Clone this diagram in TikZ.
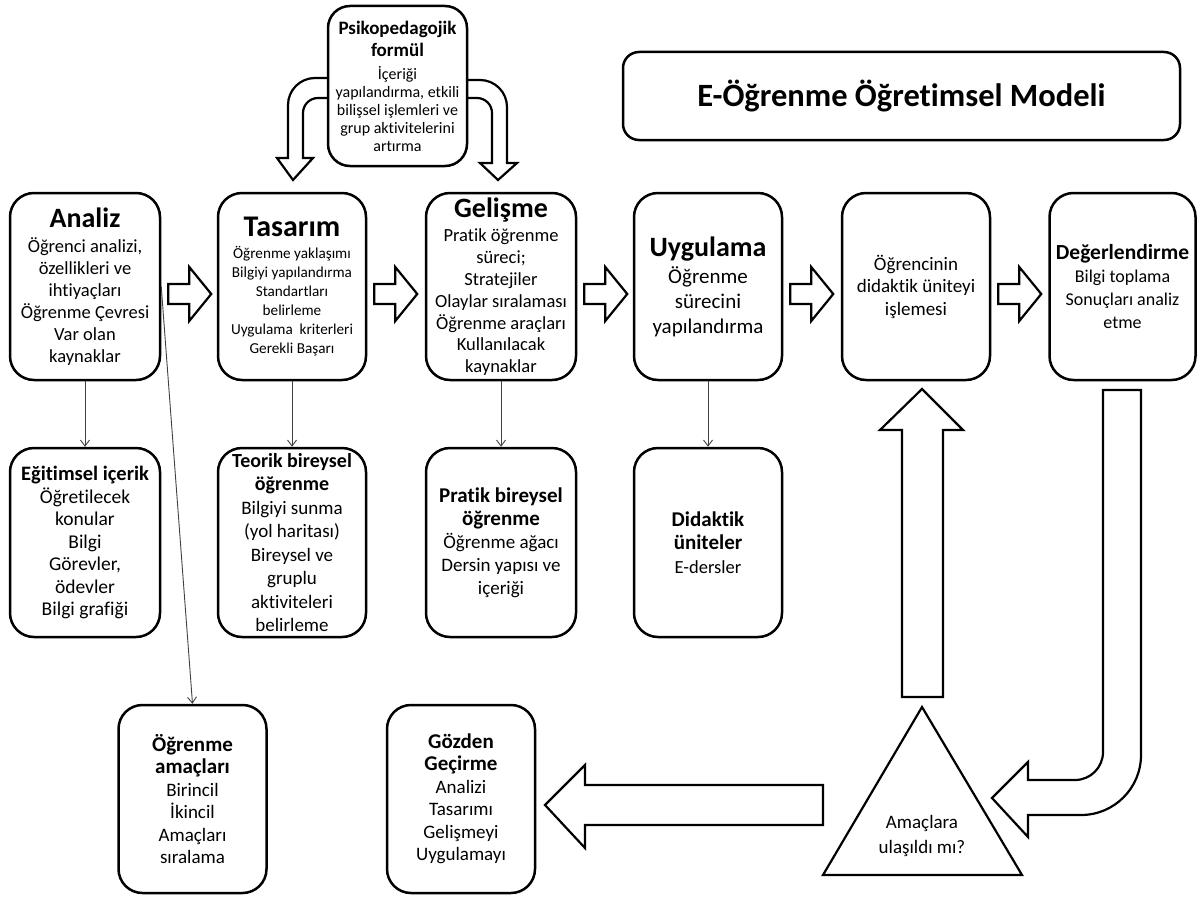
\documentclass[tikz,border=0pt]{standalone}
\usepackage{fontspec}
\setmainfont{Carlito}[Ligatures=NoCommon]
\usetikzlibrary{arrows.meta,calc}
\newcommand{\setfs}[2]{\fontsize{#1}{#2}\selectfont}
\newcommand{\stagehead}[1]{\fontsize{#1}{#1}\selectfont\bfseries}

\begin{document}
\begin{tikzpicture}[x=1pt, y=-1pt,
    stage/.style={draw, line width=2.5pt, rounded corners=24pt, fill=white, align=flush center,
      inner sep=0pt, minimum width=150pt, minimum height=187pt, text width=146pt},
    blockarrow/.style={draw, line width=2.2pt, fill=white, line join=miter},
    thinarrow/.style={draw=black!75, line width=0.9pt, -{Straight Barb[length=6pt, width=9pt]}}]
  \useasboundingbox (0,0) rectangle (1198,899);

  % Curved arrows of the psychopedagogical formula (under its box)
  \draw[blockarrow] (330,78) -- (315,78) arc[start angle=270, end angle=180, radius=27]
    -- (288,158) -- (277,158) -- (293,180) -- (313,158) -- (303,158)
    -- (303,113) arc[start angle=180, end angle=270, radius=15] -- (330,98);
  \draw[blockarrow] (465,80) -- (480,80) arc[start angle=270, end angle=360, radius=27]
    -- (507,163) -- (517,163) -- (498,180) -- (480,163) -- (492,163)
    -- (492,113) arc[start angle=0, end angle=-90, radius=15] -- (465,98);

  \node[stage, minimum width=139pt, minimum height=160pt, text width=137pt,
    rounded corners=22pt, font=\setfs{16}{18}] (psiko) at (397.5,86)
    {{\stagehead{19}Psikopedagojik\\[4pt] formül}\\[5pt] İçeriği\\ yapılandırma, etkili\\
     bilişsel işlemleri ve\\ grup aktivitelerini\\ artırma};

  % Title
  \node[draw, line width=2.5pt, rounded corners=16pt, minimum width=557pt, minimum height=88pt,
    font=\setfs{32.5}{36}\bfseries] (baslik) at (901.5,96) {E-Öğrenme Öğretimsel Modeli};

  % Main stages
  \node[stage, font=\setfs{18.5}{22}] (analiz) at (85,286.5)
    {{\stagehead{28}Analiz}\\[3pt] Öğrenci analizi,\\ özellikleri ve\\ ihtiyaçları\\
     Öğrenme Çevresi\\ Var olan\\ kaynaklar};
  \node[stage, minimum width=148pt, font=\setfs{15.2}{19}] (tasarim) at (292,286.5)
    {{\stagehead{30}Tasarım}\\[3pt] Öğrenme yaklaşımı\\ Bilgiyi yapılandırma\\ Standartları\\
     belirleme\\ Uygulama~ kriterleri\\ Gerekli Başarı};
  \node[stage, font=\setfs{18.5}{21.8}] (gelisme) at (501,286.5)
    {{\stagehead{28}Gelişme}\\[3pt] Pratik öğrenme\\ süreci;\\ Stratejiler\\
     Olaylar sıralaması\\ Öğrenme araçları\\ Kullanılacak\\ kaynaklar};
  \node[stage, minimum width=148pt, font=\setfs{21}{25}] (uygulama) at (708,286.5)
    {{\stagehead{28}Uygulama}\\[2pt] Öğrenme\\ sürecini\\ yapılandırma};
  \node[stage, minimum width=148pt, font=\setfs{19}{22.5}] (isleme) at (916,286.5)
    {Öğrencinin\\ didaktik üniteyi\\ işlemesi};
  \node[stage, minimum width=146pt, text width=144pt, font=\setfs{18}{23}] (deger) at (1122.5,286.5)
    {{\stagehead{21.5}Değerlendirme}\\ Bilgi toplama\\ Sonuçları analiz\\ etme};

  % Second row
  \node[stage, minimum height=189pt, font=\setfs{19.5}{22.5}] (egitim) at (85,542.5)
    {{\stagehead{20.5}Eğitimsel içerik}\\ Öğretilecek\\ konular\\ Bilgi\\ Görevler,\\
     ödevler\\ Bilgi grafiği};
  \node[stage, minimum width=148pt, minimum height=189pt, font=\setfs{19}{23.5}] (teorik) at (292,542.5)
    {{\stagehead{20}Teorik bireysel\\ öğrenme}\\ Bilgiyi sunma\\ (yol haritası)\\
     Bireysel ve\\ gruplu\\ aktiviteleri\\ belirleme};
  \node[stage, minimum height=189pt, font=\setfs{19}{23}] (pratik) at (501,542.5)
    {{\stagehead{21}Pratik bireysel\\ öğrenme}\\ Öğrenme ağacı\\ Dersin yapısı ve\\ içeriği};
  \node[stage, minimum width=148pt, minimum height=189pt, font=\setfs{18.5}{23.5}] (didaktik) at (708,542.5)
    {{\stagehead{21}Didaktik\\ üniteler}\\ E-dersler};

  % Third row
  \node[stage, minimum width=148pt, minimum height=188pt, font=\setfs{19}{22.5}] (amac) at (192.5,799)
    {{\stagehead{21}Öğrenme\\ amaçları}\\ Birincil\\ İkincil\\ Amaçları\\ sıralama};
  \node[stage, minimum width=148pt, minimum height=188pt, font=\setfs{19}{22.5}] (gozden) at (461,799)
    {{\stagehead{21}Gözden\\ Geçirme}\\ Analizi\\ Tasarımı\\ Gelişmeyi\\ Uygulamayı};

  % Block arrows between the stages
  \foreach \a in {analiz, tasarim, gelisme, uygulama, isleme}
    \draw[blockarrow, shift={($(\a.east)+(7,7.5)$)}] (0,-10) -- (21,-10) -- (21,-27)
      -- (43,0) -- (21,27) -- (21,10) -- (0,10) -- cycle;

  % Thin arrows down to the details
  \draw[thinarrow] (analiz) -- (egitim);
  \draw[thinarrow] (tasarim) -- (teorik);
  \draw[thinarrow] (gelisme) -- (pratik);
  \draw[thinarrow] (uygulama) -- (didaktik);
  \draw[thinarrow] (analiz.east) -- (amac.north);

  % Decision triangle
  \draw[blockarrow] (922,707) -- (1022,875) -- (823,875) -- cycle;
  \node[font=\setfs{19}{25}, align=center] (soru) at (922,836) {Amaçlara\\ulaşıldı mı?};

  % Feedback loop
  \draw[blockarrow] (902,697) -- (902,430) -- (880,430) -- (922,389) -- (963,430)
    -- (943,430) -- (943,697) -- cycle;
  \draw[blockarrow] (1103,390) -- (1103,752) arc[start angle=0, end angle=90, radius=28]
    -- (1028,780) -- (1028,762) -- (992,798) -- (1028,837) -- (1028,815) -- (1081,815)
    arc[start angle=90, end angle=0, radius=60] -- (1141,390) -- cycle;
  \draw[blockarrow] (823,785) -- (585,785) -- (585,765) -- (545,805) -- (585,848)
    -- (585,825) -- (823,825) -- cycle;
\end{tikzpicture}
\end{document}
